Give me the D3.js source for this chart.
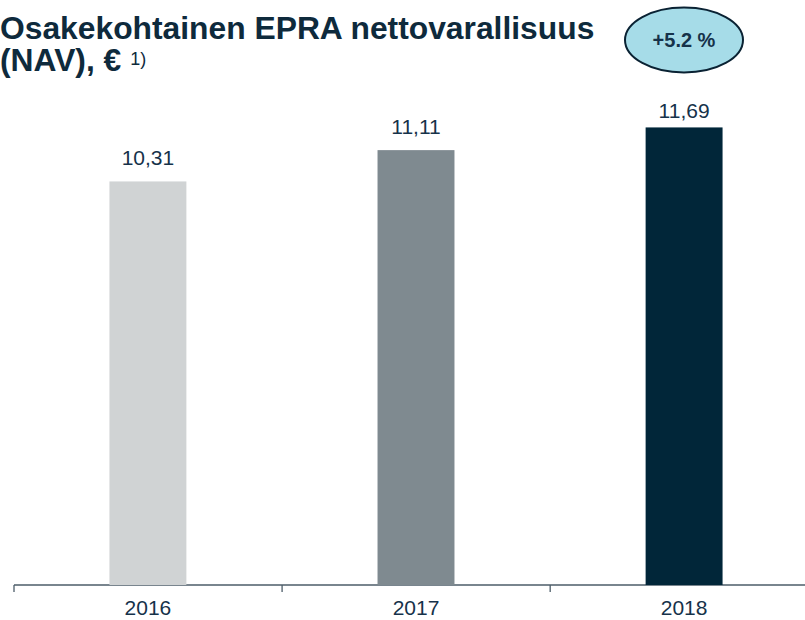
<!DOCTYPE html>
<html>
<head>
<meta charset="utf-8">
<script src="https://cdn.jsdelivr.net/npm/d3@7"></script>
<style>
  body { margin: 0; background: #fff; }
  svg { display: block; font-family: "Liberation Sans", Arial, sans-serif; }
</style>
</head>
<body>
<div id="chart"></div>
<script>
const years = ['2016', '2017', '2018'];
const navValues = [10.31, 11.11, 11.69];
const valueLabels = ['10,31', '11,11', '11,69'];
const barColors = ['#d0d3d4', '#7f8a90', '#012639'];
const changeLabel = '+5.2 %';

const width = 805;
const height = 620;
const textColor = '#16324a';

const svg = d3.select('#chart')
  .append('svg')
  .attr('width', width)
  .attr('height', height);

const x = d3.scaleBand()
  .domain(years)
  .range([14, 818])
  .paddingInner(0.713)
  .paddingOuter(0.356);

const y = d3.scaleLinear()
  .domain([0, 14])
  .range([585, 37]);

// axis with ticks on band edges
const axis = svg.append('g');
axis.append('line')
  .attr('x1', 14).attr('x2', width)
  .attr('y1', y(0)).attr('y2', y(0))
  .attr('stroke', '#4d5d69')
  .attr('stroke-width', 1.3);

const step = x.step();
const edges = d3.range(years.length + 1).map((i) => 14 + i * step);
axis.selectAll('.tick')
  .data(edges)
  .enter().append('line')
  .attr('x1', (d) => d).attr('x2', (d) => d)
  .attr('y1', y(0)).attr('y2', y(0) + 7)
  .attr('stroke', '#4d5d69')
  .attr('stroke-width', 1.3);

axis.selectAll('.year')
  .data(years)
  .enter().append('text')
  .attr('x', (d) => x(d) + x.bandwidth() / 2)
  .attr('y', 615)
  .attr('text-anchor', 'middle')
  .attr('font-size', 21)
  .attr('fill', textColor)
  .text((d) => d);

const bars = svg.selectAll('.bar')
  .data(years)
  .enter().append('g');

bars.append('rect')
  .attr('x', (d) => x(d))
  .attr('width', x.bandwidth())
  .attr('y', (d, i) => y(navValues[i]))
  .attr('height', (d, i) => y(0) - y(navValues[i]))
  .attr('fill', (d, i) => barColors[i]);

bars.append('text')
  .attr('x', (d) => x(d) + x.bandwidth() / 2)
  .attr('y', (d, i) => Math.max(y(navValues[i]) - 16, 118))
  .attr('text-anchor', 'middle')
  .attr('font-size', 21)
  .attr('fill', textColor)
  .text((d, i) => valueLabels[i]);

// title
const title = svg.append('text')
  .attr('font-weight', 'bold')
  .attr('font-size', 31.8)
  .attr('fill', '#0e2a3c');
title.append('tspan').attr('x', 0).attr('y', 39).text('Osakekohtainen EPRA nettovarallisuus');
title.append('tspan').attr('x', 0).attr('y', 71).text('(NAV), € ');
title.append('tspan')
  .attr('font-weight', 'normal')
  .attr('font-size', 18)
  .attr('dy', -6)
  .text('1)');

// change badge
svg.append('ellipse')
  .attr('cx', 684).attr('cy', 40)
  .attr('rx', 59).attr('ry', 32.5)
  .attr('fill', '#a6dce8')
  .attr('stroke', '#0a2233')
  .attr('stroke-width', 2);

svg.append('text')
  .attr('x', 684).attr('y', 47)
  .attr('text-anchor', 'middle')
  .attr('font-weight', 'bold')
  .attr('font-size', 20)
  .attr('fill', '#16324a')
  .text(changeLabel);
</script>
</body>
</html>
